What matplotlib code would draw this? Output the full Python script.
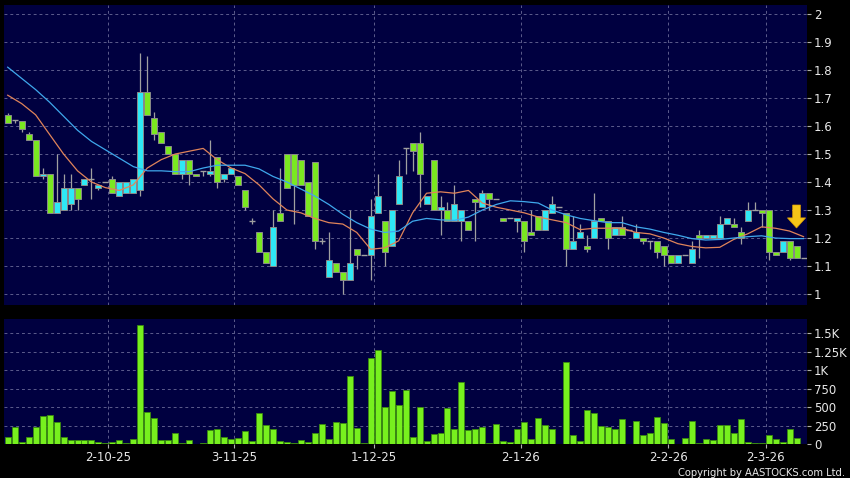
import matplotlib
matplotlib.use("Agg")
import matplotlib.pyplot as plt
import numpy as np

# OHLC (one entry per trading day)
opens = [1.64, 1.62, 1.617, 1.57, 1.55, 1.42, 1.43, 1.29, 1.30, 1.32,
         1.38, 1.39, 1.41, 1.38, 1.40, 1.41, 1.35, 1.36, 1.36, 1.37,
         1.72, 1.63, 1.58, 1.53, 1.50, 1.43, 1.48, 1.43, 1.44, 1.43,
         1.49, 1.41, 1.43, 1.42, 1.37, 1.26, 1.22, 1.15, 1.10, 1.29,
         1.50, 1.50, 1.48, 1.40, 1.47, 1.19, 1.06, 1.11, 1.08, 1.05,
         1.16, 1.14, 1.14, 1.29, 1.26, 1.17, 1.32, 1.52, 1.54, 1.54,
         1.32, 1.48, 1.30, 1.30, 1.26, 1.26, 1.26, 1.34, 1.31, 1.36,
         1.34, 1.27, 1.27, 1.26, 1.26, 1.22, 1.28, 1.23, 1.29, 1.31,
         1.29, 1.16, 1.20, 1.17, 1.20, 1.27, 1.26, 1.21, 1.24, 1.23,
         1.20, 1.20, 1.19, 1.19, 1.17, 1.14, 1.11, 1.14, 1.11, 1.21,
         1.20, 1.20, 1.20, 1.25, 1.25, 1.22, 1.26, 1.30, 1.30, 1.30,
         1.15, 1.15, 1.19, 1.17, 1.13]
highs = [1.645, 1.62, 1.617, 1.58, 1.55, 1.45, 1.43, 1.50, 1.43, 1.43,
         1.38, 1.41, 1.45, 1.39, 1.40, 1.42, 1.40, 1.40, 1.41, 1.86,
         1.85, 1.65, 1.58, 1.53, 1.50, 1.48, 1.48, 1.43, 1.44, 1.55,
         1.49, 1.43, 1.45, 1.42, 1.37, 1.27, 1.22, 1.15, 1.30, 1.45,
         1.50, 1.50, 1.48, 1.40, 1.47, 1.20, 1.22, 1.11, 1.08, 1.30,
         1.16, 1.14, 1.34, 1.43, 1.26, 1.30, 1.48, 1.52, 1.54, 1.58,
         1.35, 1.48, 1.35, 1.33, 1.39, 1.30, 1.26, 1.34, 1.37, 1.36,
         1.34, 1.27, 1.27, 1.27, 1.26, 1.30, 1.28, 1.30, 1.35, 1.31,
         1.29, 1.28, 1.25, 1.21, 1.36, 1.27, 1.26, 1.24, 1.28, 1.23,
         1.25, 1.20, 1.19, 1.19, 1.17, 1.14, 1.14, 1.14, 1.19, 1.23,
         1.21, 1.21, 1.28, 1.27, 1.27, 1.24, 1.33, 1.33, 1.30, 1.30,
         1.15, 1.19, 1.19, 1.17, 1.13]
lows = [1.61, 1.61, 1.58, 1.55, 1.42, 1.41, 1.29, 1.29, 1.30, 1.30,
        1.30, 1.39, 1.34, 1.37, 1.40, 1.36, 1.35, 1.36, 1.36, 1.35,
        1.64, 1.55, 1.54, 1.50, 1.43, 1.41, 1.39, 1.42, 1.42, 1.42,
        1.38, 1.40, 1.43, 1.39, 1.30, 1.25, 1.15, 1.11, 1.10, 1.26,
        1.38, 1.25, 1.39, 1.28, 1.16, 1.18, 1.06, 1.08, 1.00, 1.05,
        1.09, 1.14, 1.05, 1.29, 1.10, 1.17, 1.32, 1.43, 1.44, 1.31,
        1.32, 1.30, 1.21, 1.26, 1.26, 1.19, 1.23, 1.19, 1.31, 1.30,
        1.34, 1.26, 1.27, 1.22, 1.15, 1.21, 1.23, 1.23, 1.29, 1.31,
        1.10, 1.16, 1.20, 1.15, 1.20, 1.26, 1.16, 1.21, 1.21, 1.23,
        1.20, 1.18, 1.16, 1.13, 1.10, 1.11, 1.11, 1.14, 1.11, 1.13,
        1.20, 1.20, 1.20, 1.25, 1.24, 1.18, 1.26, 1.30, 1.24, 1.12,
        1.14, 1.15, 1.12, 1.13, 1.13]
closes = [1.61, 1.62, 1.59, 1.55, 1.42, 1.43, 1.29, 1.33, 1.38, 1.38,
          1.34, 1.41, 1.41, 1.39, 1.40, 1.36, 1.40, 1.40, 1.41, 1.72,
          1.64, 1.57, 1.54, 1.50, 1.43, 1.48, 1.43, 1.42, 1.44, 1.44,
          1.40, 1.43, 1.45, 1.39, 1.31, 1.26, 1.15, 1.11, 1.24, 1.26,
          1.38, 1.39, 1.39, 1.28, 1.19, 1.19, 1.12, 1.08, 1.05, 1.11,
          1.14, 1.14, 1.28, 1.35, 1.15, 1.30, 1.42, 1.52, 1.51, 1.43,
          1.35, 1.30, 1.31, 1.26, 1.32, 1.30, 1.23, 1.33, 1.36, 1.34,
          1.34, 1.26, 1.27, 1.27, 1.19, 1.21, 1.23, 1.30, 1.32, 1.31,
          1.16, 1.19, 1.22, 1.16, 1.26, 1.26, 1.20, 1.24, 1.21, 1.23,
          1.22, 1.19, 1.19, 1.15, 1.14, 1.11, 1.14, 1.14, 1.16, 1.20,
          1.21, 1.21, 1.25, 1.27, 1.24, 1.20, 1.30, 1.30, 1.29, 1.15,
          1.14, 1.19, 1.13, 1.13, 1.13]
volumes = [90, 231, 31, 90, 231, 385, 398, 303, 99, 49,
           49, 49, 49, 22, 13, 31, 54, 18, 72, 1608,
           439, 348, 54, 49, 149, 13, 54, 4, 18, 195,
           208, 99, 68, 81, 176, 41, 416, 262, 204, 45,
           31, 18, 58, 31, 154, 272, 68, 294, 280, 928,
           222, 9, 1169, 1268, 498, 724, 525, 734, 99, 503,
           45, 136, 145, 489, 208, 842, 194, 208, 235, 13,
           272, 45, 22, 208, 294, 72, 353, 262, 208, 0,
           1114, 127, 45, 457, 416, 240, 235, 208, 340, 0,
           312, 118, 145, 362, 280, 72, 0, 81, 317, 13,
           63, 54, 258, 258, 145, 344, 22, 9, 9, 122,
           72, 31, 204, 81, 0]

# moving averages read every second day
ma_short = [1.71, 1.68, 1.64, 1.57, 1.50, 1.44, 1.40, 1.38, 1.37, 1.39,
            1.45, 1.48, 1.50, 1.51, 1.52, 1.48, 1.45, 1.43, 1.39, 1.34,
            1.30, 1.29, 1.27, 1.255, 1.25, 1.22, 1.16, 1.165, 1.19, 1.29,
            1.36, 1.365, 1.36, 1.37, 1.325, 1.31, 1.30, 1.29, 1.275, 1.265,
            1.255, 1.23, 1.235, 1.235, 1.235, 1.22, 1.215, 1.20, 1.18, 1.17,
            1.165, 1.167, 1.195, 1.215, 1.24, 1.235, 1.225, 1.205]
ma_long = [1.81, 1.77, 1.73, 1.685, 1.635, 1.585, 1.545, 1.515, 1.485, 1.455,
           1.44, 1.44, 1.437, 1.437, 1.45, 1.46, 1.46, 1.46, 1.447, 1.42,
           1.40, 1.375, 1.35, 1.32, 1.285, 1.255, 1.232, 1.22, 1.225, 1.26,
           1.27, 1.265, 1.263, 1.275, 1.30, 1.32, 1.333, 1.33, 1.325, 1.30,
           1.283, 1.27, 1.262, 1.255, 1.255, 1.24, 1.232, 1.22, 1.21, 1.198,
           1.193, 1.195, 1.20, 1.205, 1.208, 1.20, 1.198, 1.198]

date_labels = ["2-10-25", "3-11-25", "1-12-25", "2-1-26", "2-2-26", "2-3-26"]
date_idx = [14.4, 32.4, 52.5, 73.5, 94.6, 108.6]
price_ticks = [1, 1.1, 1.2, 1.3, 1.4, 1.5, 1.6, 1.7, 1.8, 1.9, 2]
vol_ticks = [0, 250, 500, 750, 1000, 1250, 1500]
vol_tick_labels = ["0", "250", "500", "750", "1K", "1.25K", "1.5K"]

BG = "#000040"
GRID = "#5c5c8c"
UP = "#2ee8f5"
DOWN = "#7ae820"
WICK = "#a0a0a0"
TXT = "#e8e8e8"

n = len(closes)
x = np.arange(n)
ma_x = np.arange(0, n, 2)

fig = plt.figure(figsize=(8.5, 4.78), dpi=100, facecolor="black")
ax = fig.add_axes([4 / 850, 1 - 305 / 478, 803 / 850, 300 / 478])
axv = fig.add_axes([4 / 850, 1 - 444 / 478, 803 / 850, 124.7 / 478])

for a in (ax, axv):
    a.set_facecolor(BG)
    for s in a.spines.values():
        s.set_visible(False)
    a.set_xlim(-0.53, 114.5)
    a.yaxis.tick_right()
    a.tick_params(axis="y", colors="#b0b0b0", labelcolor=TXT, length=3,
                  width=0.8, pad=2, labelsize=8.5)
    a.grid(True, color=GRID, linestyle=(0, (3, 3)), linewidth=0.7)
    a.set_axisbelow(True)
    a.set_xticks(date_idx)

# price panel
ax.set_ylim(0.961, 2.032)
ax.set_yticks(price_ticks)
ax.set_yticklabels([f"{t:g}" for t in price_ticks])
ax.tick_params(axis="x", length=0, labelbottom=False)

o = np.array(opens)
c = np.array(closes)
ax.vlines(x, lows, highs, color=WICK, linewidth=0.9, zorder=2)
body = np.abs(c - o)
is_doji = body < 0.002
colors = np.where(c >= o, UP, DOWN)
ax.bar(x[~is_doji], body[~is_doji], bottom=np.minimum(o, c)[~is_doji],
       width=0.86, color=colors[~is_doji], edgecolor="#8a8a8a",
       linewidth=0.7, zorder=3)
ax.hlines(c[is_doji], x[is_doji] - 0.43, x[is_doji] + 0.43,
          color=WICK, linewidth=1.0, zorder=3)

ax.plot(ma_x, ma_short, color="#e0845a", linewidth=0.9, zorder=4)
ax.plot(ma_x, ma_long, color="#3fa8ec", linewidth=0.9, zorder=4)

# arrow marker above the latest bar
ax.arrow(x[-2], 1.318, 0, -0.046, width=1.1, head_width=2.6,
         head_length=0.036, length_includes_head=False,
         color="#f5c518", ec="#e0a000", linewidth=0.5, zorder=5)

# volume panel
axv.set_ylim(0, 1690)
axv.set_yticks(vol_ticks)
axv.set_yticklabels(vol_tick_labels)
axv.bar(x, volumes, width=0.86, color="#77f01e", edgecolor="#3a8a10",
        linewidth=0.6, zorder=3)
axv.set_xticklabels(date_labels)
axv.tick_params(axis="x", colors="#b0b0b0", labelcolor=TXT, length=3,
                width=0.8, pad=2, labelsize=8.5)

fig.text(845 / 850, 1 - 477.5 / 478, "Copyright by AASTOCKS.com Ltd.",
         color=TXT, fontsize=7.2, ha="right", va="bottom")

fig.savefig("out.png", dpi=100, facecolor="black")
